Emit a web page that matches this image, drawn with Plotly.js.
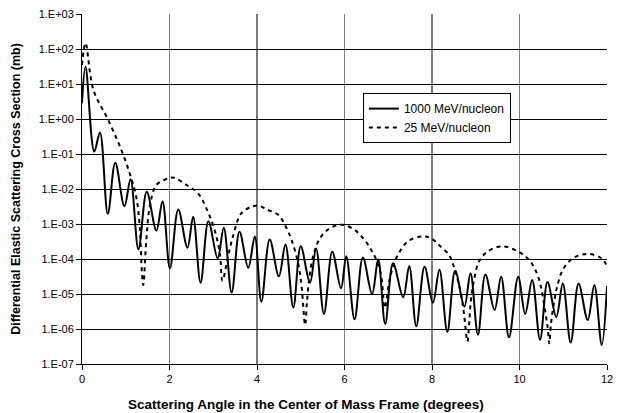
<!DOCTYPE html>
<html>
<head>
<meta charset="utf-8">
<script src="https://cdn.plot.ly/plotly-3.0.1.min.js"></script>
<style>html,body{margin:0;padding:0;background:#fff}#chart{width:619px;height:413px}</style>
</head>
<body>
<div id="chart"></div>
<script>
// 1000 MeV/nucleon (solid)
var angle1000 = [0, 0.08, 0.28, 0.41, 0.59, 0.76, 0.97, 1.11, 1.29, 1.48,
  1.70, 1.84, 2.01, 2.20, 2.41, 2.54, 2.71, 2.89, 3.10, 3.24,
  3.42, 3.60, 3.80, 3.95, 4.10, 4.29, 4.50, 4.65, 4.83, 5.00,
  5.21, 5.35, 5.53, 5.72, 5.92, 6.04, 6.23, 6.42, 6.63, 6.77,
  6.93, 7.11, 7.34, 7.48, 7.64, 7.83, 8.02, 8.17, 8.35, 8.53,
  8.74, 8.88, 9.05, 9.22, 9.43, 9.58, 9.76, 9.97, 10.13, 10.29,
  10.47, 10.64, 10.84, 10.99, 11.17, 11.35, 11.56, 11.71, 11.88, 12.0];
var xs1000 = [2.8, 31, 0.117, 0.41, 1.95e-3, 5.6e-2, 3.2e-3, 1.9e-2, 1.9e-4, 8.3e-3,
  6.5e-4, 4.5e-3, 5.4e-5, 2.6e-3, 2.1e-4, 1.6e-3, 2.1e-5, 1.2e-3, 1.05e-4, 7.8e-4,
  1.1e-5, 6.0e-4, 5.6e-5, 4.4e-4, 6.0e-6, 3.6e-4, 3.2e-5, 2.6e-4, 4.1e-6, 2.3e-4,
  2.1e-5, 2.0e-4, 2.7e-6, 1.6e-4, 1.45e-5, 1.2e-4, 1.9e-6, 1.1e-4, 1.0e-5, 9.8e-5,
  1.4e-6, 7.6e-5, 8.1e-6, 6.3e-5, 1.2e-6, 6.0e-5, 5.6e-6, 4.9e-5, 8.3e-7, 4.6e-5,
  4.4e-6, 3.9e-5, 6.8e-7, 3.6e-5, 3.5e-6, 3.1e-5, 5.8e-7, 3.1e-5, 2.7e-6, 2.5e-5,
  4.9e-7, 2.2e-5, 2.2e-6, 2.0e-5, 4.1e-7, 2.0e-5, 1.8e-6, 1.8e-5, 3.5e-7, 1.7e-5];

// 25 MeV/nucleon (dashed)
var angle25 = [0, 0.08, 0.26, 0.60, 0.90, 1.09, 1.24, 1.32, 1.37, 1.40,
  1.47, 1.55, 1.70, 1.97, 2.10, 2.39, 2.65, 2.88, 3.03, 3.15,
  3.21, 3.34, 3.45, 3.64, 3.90, 4.05, 4.22, 4.49, 4.64, 4.79,
  4.94, 5.02, 5.10, 5.14, 5.20, 5.29, 5.44, 5.67, 5.95, 6.23,
  6.46, 6.61, 6.73, 6.84, 6.92, 7.03, 7.11, 7.22, 7.45, 7.79,
  7.98, 8.16, 8.39, 8.50, 8.58, 8.66, 8.73, 8.81, 8.85, 8.89,
  8.96, 9.07, 9.26, 9.60, 9.98, 10.22, 10.38, 10.49, 10.57, 10.64,
  10.68, 10.72, 10.80, 10.87, 10.99, 11.22, 11.56, 11.87, 12.0];
var xs25 = [35, 148, 6.8, 0.93, 0.13, 2.8e-2, 6.0e-3, 8.3e-4, 3.9e-5, 1.8e-5,
  3.5e-4, 3.2e-3, 1.3e-2, 2.0e-2, 2.1e-2, 1.3e-2, 7.6e-3, 2.2e-3, 6.8e-4, 1.45e-4,
  2.4e-5, 1.2e-4, 4.4e-4, 2.0e-3, 3.2e-3, 3.3e-3, 2.6e-3, 1.8e-3, 9.3e-4, 3.5e-4,
  7.6e-5, 1.6e-5, 1.3e-6, 5.4e-6, 3.2e-5, 1.3e-4, 3.9e-4, 7.6e-4, 9.5e-4, 6.8e-4,
  3.5e-4, 1.8e-4, 9.3e-5, 3.2e-5, 4.0e-6, 2.5e-5, 6.0e-5, 1.3e-4, 3.2e-4, 4.4e-4,
  3.9e-4, 2.5e-4, 1.3e-4, 6.0e-5, 2.8e-5, 1.05e-5, 2.8e-6, 4.4e-7, 1.45e-6, 6.8e-6,
  2.5e-5, 8.3e-5, 1.6e-4, 2.3e-4, 1.6e-4, 9.3e-5, 4.4e-5, 1.6e-5, 4.4e-6, 1.2e-6,
  3.9e-7, 1.45e-6, 6.8e-6, 1.8e-5, 4.9e-5, 1.05e-4, 1.4e-4, 1.05e-4, 6.3e-5];

var yTickVals = [1e-7, 1e-6, 1e-5, 1e-4, 1e-3, 1e-2, 1e-1, 1e0, 1e1, 1e2, 1e3];
var yTickText = ["1.E-07", "1.E-06", "1.E-05", "1.E-04", "1.E-03", "1.E-02", "1.E-01", "1.E+00", "1.E+01", "1.E+02", "1.E+03"];
var xTickVals = [0, 2, 4, 6, 8, 10, 12];
var seriesNames = ["1000 MeV/nucleon", "25 MeV/nucleon"];
var xTitle = "Scattering Angle in the Center of Mass Frame (degrees)";
var yTitle = "Differential Elastic Scattering Cross Section (mb)";

var font = "Liberation Sans, Arial, sans-serif";

var traces = [
  {x: angle1000, y: xs1000, name: seriesNames[0], mode: "lines",
   line: {color: "#000", width: 2, shape: "spline", smoothing: 1}},
  {x: angle25, y: xs25, name: seriesNames[1], mode: "lines",
   line: {color: "#000", width: 2, dash: "4px,4px", shape: "spline", smoothing: 1}}
];

var layout = {
  width: 619, height: 413,
  margin: {l: 82, r: 12, t: 14, b: 49},
  paper_bgcolor: "#fff", plot_bgcolor: "#fff",
  font: {family: font, size: 11, color: "#000"},
  showlegend: true,
  legend: {x: 0.535, y: 0.774, xanchor: "left", yanchor: "top",
    bgcolor: "#fff", bordercolor: "#000", borderwidth: 1,
    entrywidth: 112, entrywidthmode: "pixels",
    font: {family: font, size: 12, color: "#000"}},
  xaxis: {
    range: [0, 12], tickvals: xTickVals, ticktext: xTickVals.map(String),
    showline: true, linecolor: "#000", linewidth: 1,
    ticks: "outside", ticklen: 5, tickcolor: "#000",
    showgrid: true, gridcolor: "#7a7a7a", gridwidth: 1.5,
    zeroline: false,
    tickfont: {family: font, size: 11, color: "#000"}
  },
  yaxis: {
    type: "log", range: [-7, 3], tickvals: yTickVals, ticktext: yTickText,
    showline: true, linecolor: "#000", linewidth: 1,
    ticks: "outside", ticklen: 5, tickcolor: "#000",
    showgrid: true, gridcolor: "#000", gridwidth: 1,
    zeroline: false,
    tickfont: {family: font, size: 11, color: "#000"},
    title: {text: "<b>" + yTitle + "</b>",
      font: {family: font, size: 12.5, color: "#000"}, standoff: 15}
  },
  annotations: [{
    text: "<b>" + xTitle + "</b>", xref: "paper", yref: "paper",
    x: 0.4267, y: -0.117, xanchor: "center", yanchor: "middle",
    showarrow: false, font: {family: font, size: 13.5, color: "#000"}
  }]
};

Plotly.newPlot("chart", traces, layout, {displayModeBar: false, staticPlot: true});
</script>
</body>
</html>
